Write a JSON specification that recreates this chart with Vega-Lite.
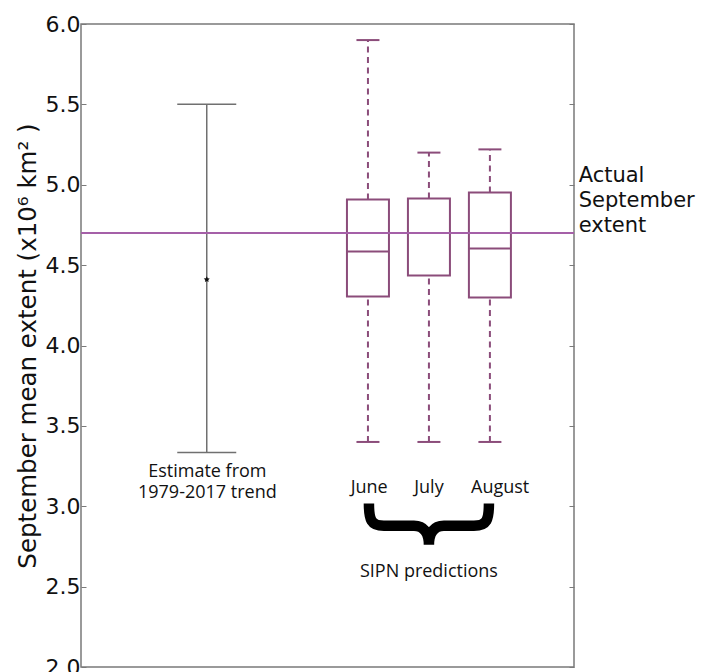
{
  "$schema": "https://vega.github.io/schema/vega-lite/v6.json",
  "width": 493,
  "height": 643,
  "autosize": "none",
  "padding": {"left": 81, "top": 24, "right": 138, "bottom": 5},
  "background": "white",
  "config": {
    "view": {"stroke": "#7a7a7a", "strokeWidth": 1.5},
    "axis": {"grid": false, "domain": false}
  },
  "datasets": {
    "boxes": [
      {"month": "June", "pos": 4.67, "lo": 3.40, "q1": 4.305, "med": 4.585, "q3": 4.909, "hi": 5.90},
      {"month": "July", "pos": 5.68, "lo": 3.40, "q1": 4.436, "med": 4.70, "q3": 4.915, "hi": 5.20},
      {"month": "August", "pos": 6.69, "lo": 3.40, "q1": 4.299, "med": 4.604, "q3": 4.952, "hi": 5.22}
    ],
    "trend": [
      {"label": "Estimate from 1979-2017 trend", "pos": 2.0, "lo": 3.335, "est": 4.411, "hi": 5.501}
    ],
    "notes": [
      {"text": "June", "x": 4.69, "y": 3.085},
      {"text": "July", "x": 5.68, "y": 3.085},
      {"text": "August", "x": 6.86, "y": 3.085},
      {"text": "SIPN predictions", "x": 5.68, "y": 2.558},
      {"text": "Estimate from\n1979-2017 trend", "x": 2.01, "y": 3.185}
    ],
    "actual": [
      {"text": "Actual\nSeptember\nextent", "x": 8.16, "y": 5.02, "extent": 4.7}
    ],
    "brace": [
      {"x": 5.68, "y": 2.885}
    ]
  },
  "resolve": {"axis": {"y": "independent"}},
  "layer": [
    {
      "data": {"name": "boxes"},
      "mark": {"type": "rule", "color": "#8b4c7a", "strokeWidth": 2, "strokeDash": [6, 4.5]},
      "encoding": {
        "x": {"field": "pos", "type": "quantitative", "scale": {"domain": [0, 8], "nice": false, "zero": false}, "axis": null},
        "y": {"field": "q3", "type": "quantitative", "scale": {"domain": [2, 6], "nice": false, "zero": false}, "axis": null},
        "y2": {"field": "hi"}
      }
    },
    {
      "data": {"name": "boxes"},
      "mark": {"type": "rule", "color": "#8b4c7a", "strokeWidth": 2, "strokeDash": [6, 4.5]},
      "encoding": {
        "x": {"field": "pos", "type": "quantitative", "axis": null},
        "y": {"field": "lo", "type": "quantitative", "axis": null},
        "y2": {"field": "q1"}
      }
    },
    {
      "data": {"name": "boxes"},
      "mark": {"type": "bar", "size": 42, "fill": "white", "stroke": "#8b4c7a", "strokeWidth": 2},
      "encoding": {
        "x": {"field": "pos", "type": "quantitative", "axis": null},
        "y": {"field": "q1", "type": "quantitative", "axis": null},
        "y2": {"field": "q3"}
      }
    },
    {
      "data": {"name": "boxes"},
      "mark": {"type": "tick", "orient": "horizontal", "size": 42, "thickness": 2, "color": "#8b4c7a", "opacity": 1},
      "encoding": {
        "x": {"field": "pos", "type": "quantitative", "axis": null},
        "y": {"field": "med", "type": "quantitative", "axis": null}
      }
    },
    {
      "data": {"name": "boxes"},
      "mark": {"type": "tick", "orient": "horizontal", "size": 23, "thickness": 2, "color": "#8b4c7a", "opacity": 1},
      "encoding": {
        "x": {"field": "pos", "type": "quantitative", "axis": null},
        "y": {"field": "hi", "type": "quantitative", "axis": null}
      }
    },
    {
      "data": {"name": "boxes"},
      "mark": {"type": "tick", "orient": "horizontal", "size": 23, "thickness": 2, "color": "#8b4c7a", "opacity": 1},
      "encoding": {
        "x": {"field": "pos", "type": "quantitative", "axis": null},
        "y": {"field": "lo", "type": "quantitative", "axis": null}
      }
    },
    {
      "data": {"name": "trend"},
      "mark": {"type": "rule", "color": "#707070", "strokeWidth": 1.5},
      "encoding": {
        "x": {"field": "pos", "type": "quantitative", "axis": null},
        "y": {
          "field": "lo", "type": "quantitative",
          "axis": {
            "orient": "left",
            "values": [2, 2.5, 3, 3.5, 4, 4.5, 5, 5.5, 6],
            "format": ".1f",
            "labelFont": "DejaVu Sans", "labelFontSize": 22, "labelColor": "#111111",
            "labelPadding": 6,
            "tickColor": "#7a7a7a", "tickSize": -5, "tickWidth": 1,
            "title": "September mean extent (x10⁶ km² )",
            "titleFont": "DejaVu Sans", "titleFontSize": 24.5, "titleFontWeight": "normal", "titleColor": "#111111",
            "titlePadding": 5
          }
        },
        "y2": {"field": "hi"}
      }
    },
    {
      "data": {"name": "trend"},
      "mark": {"type": "tick", "orient": "horizontal", "size": 59, "thickness": 1.5, "color": "#707070", "opacity": 1},
      "encoding": {
        "x": {"field": "pos", "type": "quantitative", "axis": null},
        "y": {"field": "hi", "type": "quantitative", "axis": null}
      }
    },
    {
      "data": {"name": "trend"},
      "mark": {"type": "tick", "orient": "horizontal", "size": 59, "thickness": 1.5, "color": "#707070", "opacity": 1},
      "encoding": {
        "x": {"field": "pos", "type": "quantitative", "axis": null},
        "y": {"field": "lo", "type": "quantitative", "axis": null}
      }
    },
    {
      "data": {"name": "trend"},
      "mark": {
        "type": "point", "filled": true, "color": "#111111", "opacity": 1, "size": 40,
        "shape": "M0,-1L0.294,-0.405L0.951,-0.309L0.476,0.155L0.588,0.809L0,0.5L-0.588,0.809L-0.476,0.155L-0.951,-0.309L-0.294,-0.405Z"
      },
      "encoding": {
        "x": {"field": "pos", "type": "quantitative", "axis": null},
        "y": {"field": "est", "type": "quantitative", "axis": null}
      }
    },
    {
      "data": {"name": "actual"},
      "mark": {"type": "rule", "color": "#a560a8", "strokeWidth": 2},
      "encoding": {
        "y": {
          "field": "extent", "type": "quantitative",
          "axis": {
            "orient": "right", "labels": false, "title": null,
            "values": [2, 2.5, 3, 3.5, 4, 4.5, 5, 5.5, 6],
            "tickColor": "#7a7a7a", "tickSize": -5, "tickWidth": 1
          }
        }
      }
    },
    {
      "data": {"name": "actual"},
      "mark": {"type": "text", "align": "left", "baseline": "alphabetic", "font": "DejaVu Sans", "fontSize": 21, "lineHeight": 25, "lineBreak": "\n", "color": "#111111"},
      "encoding": {
        "x": {"field": "x", "type": "quantitative", "axis": null},
        "y": {"field": "y", "type": "quantitative", "axis": null},
        "text": {"field": "text"}
      }
    },
    {
      "data": {"name": "notes"},
      "mark": {"type": "text", "align": "center", "baseline": "alphabetic", "font": "Open Sans", "fontSize": 18, "lineHeight": 21, "lineBreak": "\n", "color": "#111111"},
      "encoding": {
        "x": {"field": "x", "type": "quantitative", "axis": null},
        "y": {"field": "y", "type": "quantitative", "axis": null},
        "text": {"field": "text"}
      }
    },
    {
      "data": {"name": "brace"},
      "mark": {
        "type": "point", "filled": false, "stroke": "#000000", "strokeWidth": 10.5, "opacity": 1, "size": 16384, "strokeCap": "butt",
        "shape": "M-0.9375,-0.33C-0.9375,-0.08,-0.906,0.0156,-0.703,0.0156L-0.234,0.0156C-0.078,0.0156,0,0.125,0,0.3125C0,0.125,0.078,0.0156,0.234,0.0156L0.703,0.0156C0.906,0.0156,0.9375,-0.08,0.9375,-0.33"
      },
      "encoding": {
        "x": {"field": "x", "type": "quantitative", "axis": null},
        "y": {"field": "y", "type": "quantitative", "axis": null}
      }
    }
  ]
}
